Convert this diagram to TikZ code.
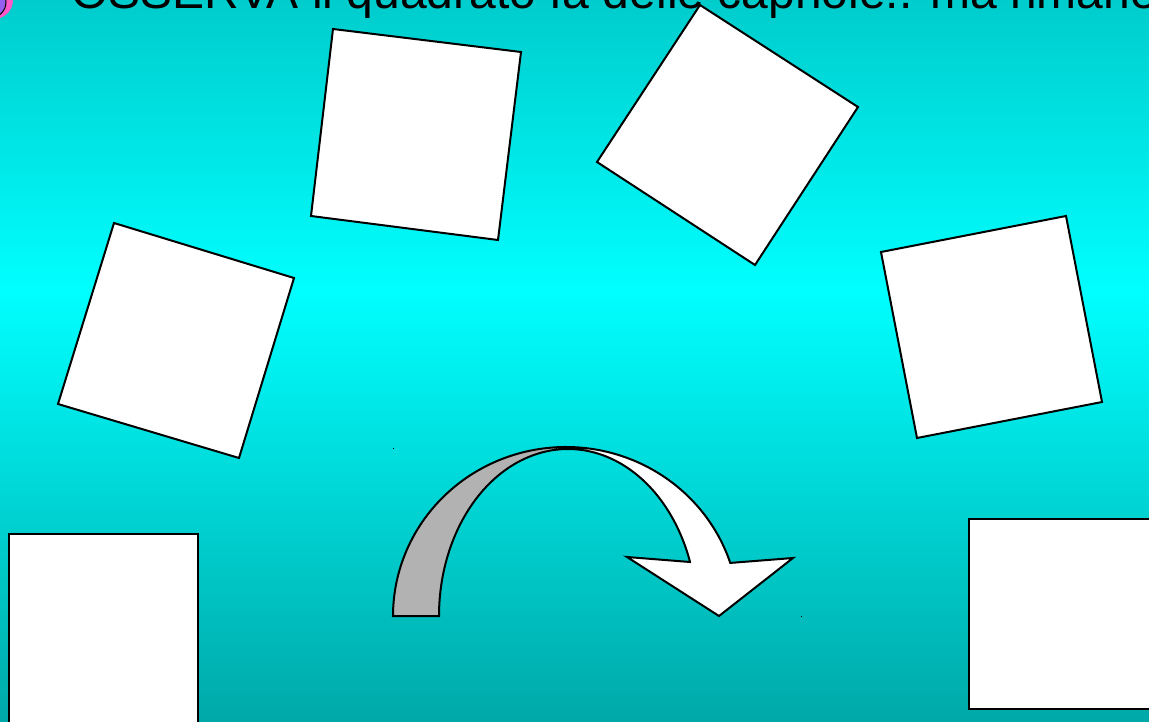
\documentclass[tikz,border=0pt]{standalone}
\usepackage{fontspec}
\setmainfont{Liberation Sans}
\definecolor{bgtop}{RGB}{0,204,204}
\definecolor{bgmid}{RGB}{0,255,255}
\definecolor{bgbot}{RGB}{0,168,168}
\definecolor{foldgray}{RGB}{178,178,178}
\definecolor{bulpink}{RGB}{255,90,200}
\definecolor{bulpurple}{RGB}{150,95,240}
\tikzset{
  card/.style={fill=white, draw=black, line width=2pt, line join=miter},
  arrowpart/.style={draw=black, line width=2pt, line join=miter},
}
\begin{document}
\begin{tikzpicture}[x=1pt, y=-1pt]
\useasboundingbox (0,0) rectangle (1149,722);
\clip (0,0) rectangle (1149,722);
% background gradient
\shade[top color=bgtop, bottom color=bgmid] (0,-1) rectangle (1150,291);
\shade[top color=bgmid, bottom color=bgbot] (0,290) rectangle (1150,723);
% bullet at top-left
\fill[bulpink] (-6,0) circle (19);
\filldraw[fill=bulpurple, draw=black, line width=1pt] (-10,2) circle (16);
% title
\node[anchor=base west, inner sep=0pt, font=\fontsize{48}{58}\selectfont] (title) at (71,9) {OSSERVA il quadrato fa delle capriole.. ma rimane};
% rotated squares
\draw[card] (333,29) coordinate (a1) -- (521,52) -- (498,240) -- (311,216) -- cycle;
\draw[card] (700,5) coordinate (b1) -- (858,107) -- (755,265) -- (597,162) -- cycle;
\draw[card] (114,223) coordinate (c1) -- (294,278) -- (239,458) -- (58,404) -- cycle;
\draw[card] (881,252) coordinate (d1) -- (1066,216) -- (1102,402) -- (917,438) -- cycle;
% straight squares
\draw[card] (9,534) coordinate (e1) rectangle (198,740);
\draw[card] (969,519) coordinate (f1) rectangle (1160,709);
% curved arrow: gray back part
\filldraw[arrowpart, fill=foldgray]
  plot[domain=180:270, samples=60] ({566+173*cos(\x)},{616+169*sin(\x)})
  -- plot[domain=270:180, samples=60] ({568+129*cos(\x)},{616+167*sin(\x)})
  -- cycle;
% curved arrow: white front part with head
\filldraw[arrowpart, fill=white]
  plot[domain=270:341.7, samples=60] ({566+173*cos(\x)},{616+169*sin(\x)})
  -- (793,558) coordinate (headR) -- (719,616) coordinate (tip) -- (627,557) coordinate (headL)
  -- (690,562)
  -- plot[domain=341:270, samples=60] ({568+129*cos(\x)},{616+167*sin(\x)})
  -- cycle;
% tiny corner marks
\fill[black] (392.5,447.5) rectangle (394,449);
\fill[black] (800.5,615.5) rectangle (802,617);
\end{tikzpicture}
\end{document}
